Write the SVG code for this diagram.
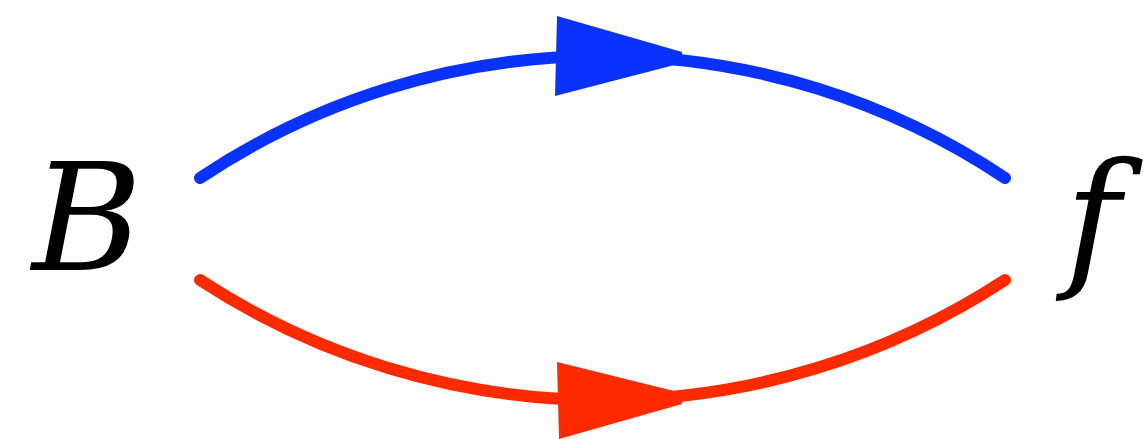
<svg xmlns="http://www.w3.org/2000/svg" width="1144" height="439" viewBox="0 0 1144 439">
<style>
.lbl{font-family:'DejaVu Serif',serif;font-style:italic;font-size:150px;fill:#000}
.arc{fill:none;stroke-width:12;stroke-linecap:round}
</style>
<rect width="1144" height="439" fill="#fff"/>
<g id="connectors">
<path class="arc" stroke="#0a32ff" d="M200,178 A725,725 0 0 1 1005,178"/>
<path fill="#0a32ff" d="M557,16 L682,52 L682,63 L555,96 Z"/>
<path class="arc" stroke="#ff2a00" d="M200,280 A735,735 0 0 0 1005,280"/>
<path fill="#ff2a00" d="M557,362 L682,393 L682,404 L559,439 Z"/>
</g>
<g id="node-B"><text class="lbl" x="32" y="270">B</text></g>
<g id="node-f"><text class="lbl" x="1065" y="270">f</text></g>
</svg>
